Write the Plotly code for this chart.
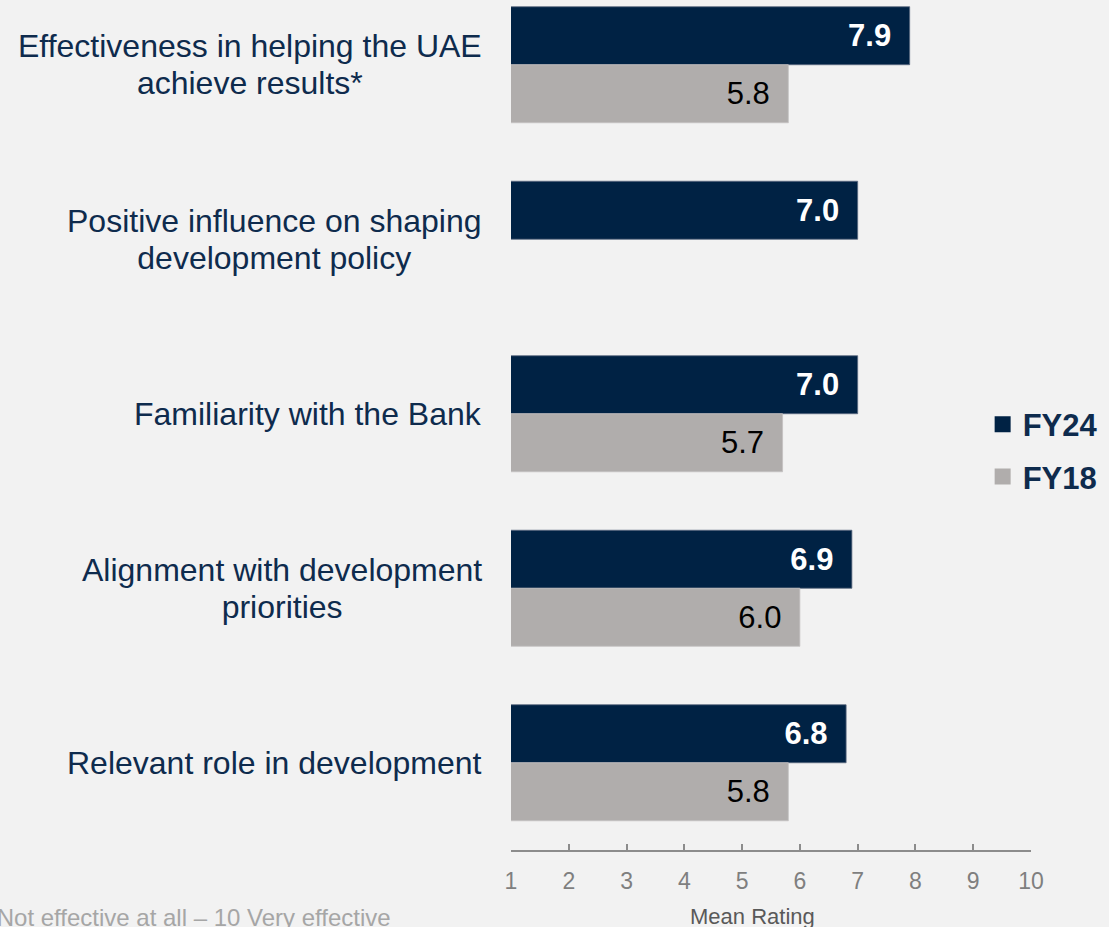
"""Mean rating by attribute, FY24 vs FY18."""

import plotly.graph_objects as go

categories = [
    "Effectiveness in helping the UAE<br>achieve results*",
    "Positive influence on shaping<br>development policy",
    "Familiarity with the Bank",
    "Alignment with development<br>priorities",
    "Relevant role in development",
]
fy24 = [7.9, 7.0, 7.0, 6.9, 6.8]
fy18 = [5.8, None, 5.7, 6.0, 5.8]
x_ticks = [1, 2, 3, 4, 5, 6, 7, 8, 9, 10]

NAVY = "#002244"
GREY_BAR = "#B0ADAC"
TEXT_NAVY = "#0E2B4D"
BG = "#F2F2F2"
FONT = "Liberation Sans, Arial, sans-serif"
PAD = "\u2002"  # en space to push the value labels off the bar end

fig = go.Figure()
fig.add_trace(go.Bar(
    y=categories, x=fy24, orientation="h", name="FY24",
    marker=dict(color=NAVY, line=dict(color="#5A6A80", width=0.8)),
    text=[f"{v:.1f}{PAD}" for v in fy24],
    textposition="inside", insidetextanchor="end",
    textfont=dict(family=FONT, size=31, color="white", weight="bold"),
    showlegend=False,
))
fig.add_trace(go.Bar(
    y=categories, x=fy18, orientation="h", name="FY18",
    marker=dict(color=GREY_BAR, line=dict(color="#C4C2C1", width=0.8)),
    text=[f"{v:.1f}{PAD}" if v is not None else "" for v in fy18],
    textposition="inside", insidetextanchor="end",
    textfont=dict(family=FONT, size=31, color="black"),
    showlegend=False,
))

# legend entries with bigger square swatches
for name, color in [("FY24", NAVY), ("FY18", GREY_BAR)]:
    fig.add_trace(go.Scatter(
        x=[None], y=[None], mode="markers", name=name, legendgroup=name,
        marker=dict(symbol="square", size=17, color=color),
    ))

# category labels: centred text blocks, right edge next to the axis
# (smaller base size keeps the line spacing tight, spans set the glyph size)
for cat in categories:
    lines = cat.split("<br>")
    label = "<br>".join(f"<span style='font-size:32px'>{ln}</span>" for ln in lines)
    fig.add_annotation(
        x=0, xref="paper", y=cat, yref="y", xanchor="right", xshift=-27,
        text=label, showarrow=False, align="center",
        font=dict(family=FONT, size=28.5, color=TEXT_NAVY),
    )

fig.add_annotation(
    x=0.4635, xref="paper", y=0, yref="paper", yanchor="middle", yshift=-66,
    text="Mean Rating", showarrow=False,
    font=dict(family=FONT, size=22, color="#595959"),
)
# scale note, partly cut off at the left edge as in the source slide
fig.add_annotation(
    x=-0.227, xref="paper", y=0, yref="paper", xanchor="right", yanchor="middle", yshift=-67,
    text="1 = Not effective at all \u2013 10 Very effective", showarrow=False,
    font=dict(family=FONT, size=24, color="#A6A6A6"),
)

fig.update_layout(
    width=1109, height=927,
    margin=dict(l=511, r=78, t=0, b=77),
    paper_bgcolor=BG, plot_bgcolor=BG,
    barmode="group", bargap=0.335, bargroupgap=0,
    font=dict(family=FONT),
    legend=dict(
        x=0.907, y=0.470, xanchor="left", yanchor="middle",
        bgcolor="rgba(0,0,0,0)", traceorder="grouped", tracegroupgap=9,
        font=dict(family=FONT, size=31, color=TEXT_NAVY, weight="bold"),
    ),
    xaxis=dict(
        range=[1, 10], tickvals=x_ticks, showgrid=False, zeroline=False,
        showline=True, linecolor="#8C8C8C", linewidth=1.5,
        ticks="inside", ticklen=6, tickcolor="#8C8C8C", tickwidth=1.5,
        tickfont=dict(family=FONT, size=23, color="#7F7F7F"),
        ticklabelstandoff=10,
    ),
    yaxis=dict(
        range=[4.5, -0.371], showticklabels=False, showgrid=False,
        zeroline=False, showline=False, ticks="",
    ),
)

fig.write_html(
    "out.html",
    config={"displayModeBar": False},
    post_script="document.body.style.margin='0';document.body.style.background='#F2F2F2';",
)
